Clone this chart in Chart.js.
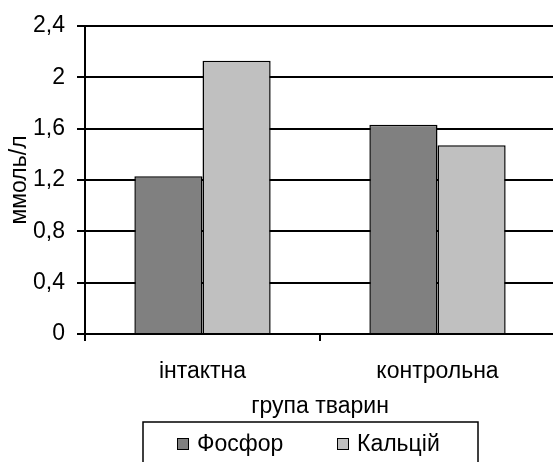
<!DOCTYPE html>
<html>
<head>
<meta charset="utf-8">
<script src="https://cdn.jsdelivr.net/npm/chart.js@4.4.1/dist/chart.umd.min.js"></script>
<style>
  html, body { margin: 0; padding: 0; background: #fff; overflow: hidden; }
  #wrap { width: 560px; height: 462px; }
</style>
</head>
<body>
<div id="wrap"><canvas id="c" width="560" height="462"></canvas></div>
<script>
// Blood serum mineral levels by animal group
const categories = ['інтактна', 'контрольна'];
const seriesNames = ['Фосфор', 'Кальцій'];
const phosphorus = [1.23, 1.63];
const calcium = [2.13, 1.47];
const yTicks = [0, 0.4, 0.8, 1.2, 1.6, 2, 2.4];
const seriesColors = ['#808080', '#c0c0c0'];

const FONT = { family: '"Liberation Sans", Arial, sans-serif', size: 23 };

// Boxed legend under the axis title
const boxedLegend = {
  id: 'boxedLegend',
  afterDraw(chart) {
    const ctx = chart.ctx;
    const a = chart.chartArea;
    const left = a.left + 58, top = 422, width = 335, height = 50;
    ctx.save();
    ctx.fillStyle = '#fff';
    ctx.fillRect(left, top, width, height);
    ctx.strokeStyle = '#000';
    ctx.lineWidth = 1.5;
    ctx.strokeRect(left, top, width, height);
    ctx.font = FONT.size + 'px ' + FONT.family;
    ctx.textBaseline = 'middle';
    ctx.textAlign = 'left';
    const offsets = [34, 194];
    chart.data.datasets.forEach((ds, i) => {
      const x = left + offsets[i];
      const cy = top + 22;
      ctx.fillStyle = ds.backgroundColor;
      ctx.fillRect(x, cy - 6, 12, 12);
      ctx.lineWidth = 1;
      ctx.strokeStyle = '#000';
      ctx.strokeRect(x + 0.5, cy - 5.5, 11, 11);
      ctx.fillStyle = '#000';
      ctx.fillText(ds.label, x + 20, cy + 1);
    });
    ctx.restore();
  }
};

new Chart(document.getElementById('c'), {
  type: 'bar',
  data: {
    labels: categories,
    datasets: [
      { label: seriesNames[0], data: phosphorus, backgroundColor: seriesColors[0] },
      { label: seriesNames[1], data: calcium, backgroundColor: seriesColors[1] }
    ]
  },
  options: {
    responsive: false,
    animation: false,
    devicePixelRatio: 1,
    layout: { padding: { top: 26, left: 0, right: 5, bottom: 42 } },
    datasets: {
      bar: {
        borderColor: '#000',
        borderWidth: 1.5,
        barPercentage: 1,
        categoryPercentage: 0.58
      }
    },
    plugins: {
      legend: { display: false },
      tooltip: { enabled: false }
    },
    scales: {
      x: {
        grid: { display: true, drawOnChartArea: false, drawTicks: true, tickLength: 7, color: '#000', lineWidth: 2, offset: true },
        border: { display: true, color: '#000', width: 2 },
        ticks: { color: '#000', font: FONT, padding: 17 },
        title: { display: true, text: 'група тварин', color: '#000', font: FONT, padding: { top: 0, bottom: 0 } },
        afterFit(scale) { scale.height = 462 - 42 - 334; }
      },
      y: {
        min: 0,
        max: 2.4,
        afterBuildTicks(scale) { scale.ticks = yTicks.map(v => ({ value: v })); },
        grid: { color: '#000', lineWidth: 2, tickLength: 8, drawTicks: true },
        border: { display: true, color: '#000', width: 2 },
        ticks: {
          color: '#000',
          font: FONT,
          padding: 12,
          callback: v => String(v).replace('.', ',')
        },
        title: { display: true, text: 'ммоль/л', color: '#000', font: FONT, padding: { top: 6, bottom: 0 } },
        afterFit(scale) { scale.width = 85; }
      }
    }
  },
  plugins: [boxedLegend]
});
</script>
</body>
</html>
